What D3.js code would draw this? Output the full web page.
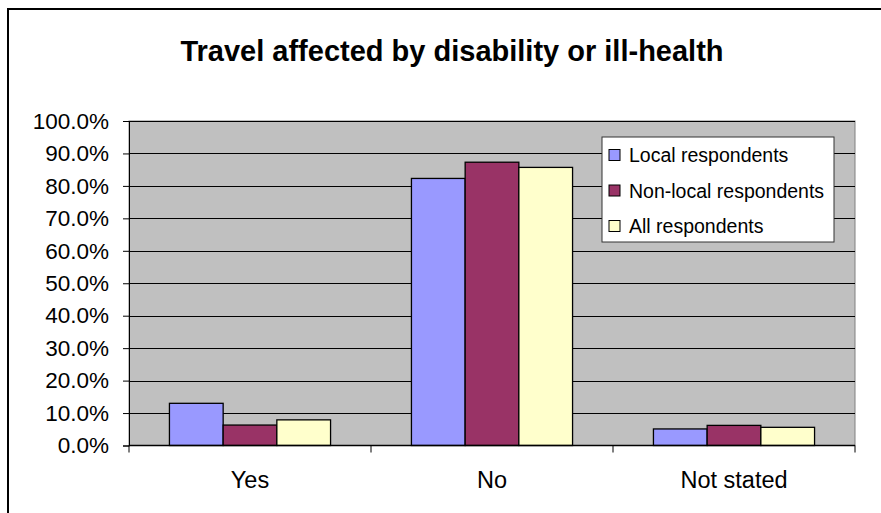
<!DOCTYPE html>
<html>
<head>
<meta charset="utf-8">
<script src="https://cdn.jsdelivr.net/npm/d3@7"></script>
<style>
  html, body { margin: 0; padding: 0; background: #fff; }
  svg { display: block; font-family: "Liberation Sans", Arial, sans-serif; }
</style>
</head>
<body>
<svg id="chart" width="881" height="513"></svg>
<script>
// Survey answers: share of respondents whose travel is affected by disability or ill-health
const categories = ["Yes", "No", "Not stated"];
const seriesNames = ["Local respondents", "Non-local respondents", "All respondents"];
const localValues = [0.130, 0.823, 0.051];
const nonLocalValues = [0.063, 0.873, 0.062];
const allValues = [0.079, 0.857, 0.056];
const seriesColors = ["#9999FF", "#993366", "#FFFFCC"];
const yTicks = [0, 0.1, 0.2, 0.3, 0.4, 0.5, 0.6, 0.7, 0.8, 0.9, 1.0];

const seriesValues = [localValues, nonLocalValues, allValues];

const svg = d3.select("#chart");

// outer chart frame
svg.append("rect")
  .attr("x", 8).attr("y", 9)
  .attr("width", 890).attr("height", 520)
  .attr("fill", "#fff")
  .attr("stroke", "#000").attr("stroke-width", 2);

// title
svg.append("text")
  .attr("x", 452).attr("y", 61)
  .attr("text-anchor", "middle")
  .attr("font-size", 29).attr("font-weight", "bold")
  .text("Travel affected by disability or ill-health");

const plot = { left: 129, right: 855, top: 121, bottom: 445.5 };

const x0 = d3.scaleBand().domain(categories)
  .range([plot.left, plot.right]).paddingInner(0).paddingOuter(0);
const x1 = d3.scaleBand().domain(seriesNames)
  .range([0, x0.bandwidth()]).paddingInner(0).paddingOuter(0.753);
const y = d3.scaleLinear().domain([0, 1]).range([plot.bottom, plot.top]);

// plot area
svg.append("rect")
  .attr("x", plot.left).attr("y", plot.top)
  .attr("width", plot.right - plot.left).attr("height", plot.bottom - plot.top)
  .attr("fill", "#C0C0C0")
  .attr("stroke", "#808080").attr("stroke-width", 1);

// gridlines
svg.append("g")
  .selectAll("line")
  .data(yTicks.slice(1))
  .join("line")
  .attr("x1", plot.left).attr("x2", plot.right)
  .attr("y1", d => Math.round(y(d)) + 0.5).attr("y2", d => Math.round(y(d)) + 0.5)
  .attr("stroke", "#000").attr("stroke-width", 1);

// bars
const groups = svg.append("g").selectAll("g")
  .data(categories)
  .join("g")
  .attr("transform", d => `translate(${x0(d)},0)`);

groups.selectAll("rect")
  .data((c, ci) => seriesNames.map((s, si) => ({ s, si, v: seriesValues[si][ci] })))
  .join("rect")
  .attr("x", d => x1(d.s))
  .attr("width", x1.bandwidth())
  .attr("y", d => y(d.v))
  .attr("height", d => y(0) - y(d.v))
  .attr("fill", d => seriesColors[d.si])
  .attr("stroke", "#000").attr("stroke-width", 1.3);

// y axis
const yAxis = svg.append("g")
  .attr("transform", `translate(${plot.left},0)`)
  .call(d3.axisLeft(y).tickValues(yTicks).tickFormat(d3.format(".1%"))
    .tickSize(6).tickPadding(14));
yAxis.select(".domain").attr("stroke", "#000");
yAxis.selectAll(".tick line").attr("stroke", "#000");
yAxis.selectAll("text")
  .attr("font-size", 22.5).attr("fill", "#000")
  .attr("font-family", "'Liberation Sans', Arial, sans-serif");

// x axis with ticks at category boundaries
const xAxis = svg.append("g")
  .attr("transform", `translate(0,${plot.bottom})`);
xAxis.append("line")
  .attr("x1", plot.left).attr("x2", plot.right)
  .attr("stroke", "#000").attr("stroke-width", 1.3);
const boundaries = categories.map(c => x0(c)).concat([x0(categories[categories.length - 1]) + x0.bandwidth()]);
xAxis.selectAll("line.tk")
  .data(boundaries)
  .join("line").attr("class", "tk")
  .attr("x1", d => Math.round(d)).attr("x2", d => Math.round(d))
  .attr("y1", 0).attr("y2", 7)
  .attr("stroke", "#000");
xAxis.selectAll("text")
  .data(categories)
  .join("text")
  .attr("x", d => x0(d) + x0.bandwidth() / 2)
  .attr("y", 42.5)
  .attr("text-anchor", "middle")
  .attr("font-size", 23.5)
  .text(d => d);

// legend
const legend = svg.append("g").attr("transform", "translate(602,137)");
legend.append("rect")
  .attr("width", 232).attr("height", 105)
  .attr("fill", "#fff").attr("stroke", "#333").attr("stroke-width", 1);
const rows = legend.selectAll("g.row")
  .data(seriesNames)
  .join("g").attr("class", "row")
  .attr("transform", (d, i) => `translate(0,${18 + i * 35.5})`);
rows.append("rect")
  .attr("x", 7).attr("y", -5.5)
  .attr("width", 11).attr("height", 11)
  .attr("fill", (d, i) => seriesColors[i])
  .attr("stroke", "#000").attr("stroke-width", 1);
rows.append("text")
  .attr("x", 27).attr("y", 7)
  .attr("font-size", 19.5)
  .text(d => d);
</script>
</body>
</html>
